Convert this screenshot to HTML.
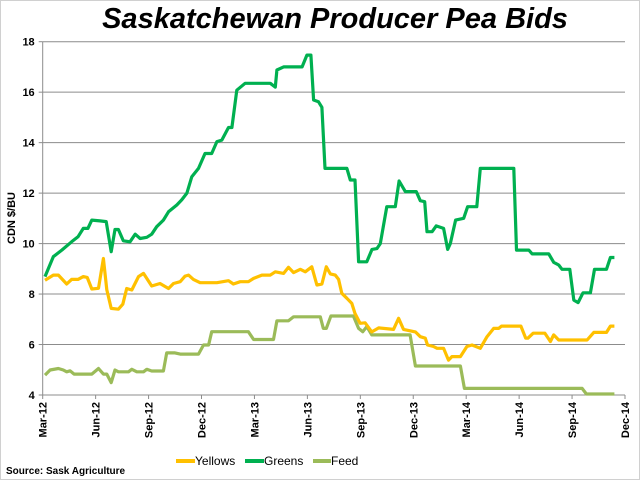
<!DOCTYPE html>
<html><head><meta charset="utf-8"><style>
body{margin:0;background:#fff;}
svg{display:block;font-family:"Liberation Sans",sans-serif;}
</style></head><body>
<svg id="chart" width="640" height="480">
<rect x="0.5" y="0.5" width="639" height="479" fill="#fff" stroke="#d0d0d0"/>
<text x="335" y="28" text-anchor="middle" font-size="29" font-weight="bold" font-style="italic" fill="#000">Saskatchewan Producer Pea Bids</text>
<g id="grid"></g>
<g id="yaxis"></g>
<g id="xaxis"></g>
<g id="series"></g>
<text transform="translate(15,218) rotate(-90)" text-anchor="middle" font-size="11" font-weight="bold">CDN $/BU</text>
<g>
<g><line x1="176" y1="461" x2="195" y2="461" stroke="#FFC000" stroke-width="4"/><text x="195" y="465" font-size="12">Yellows</text></g>
<g><line x1="245" y1="461" x2="264" y2="461" stroke="#00B050" stroke-width="4"/><text x="264" y="465" font-size="12">Greens</text></g>
<g><line x1="313" y1="461" x2="331" y2="461" stroke="#9BBB59" stroke-width="4"/><text x="331" y="465" font-size="12">Feed</text></g>
</g>
<text x="6" y="474" font-size="10" font-weight="bold">Source: Sask Agriculture</text>
</svg>
<script>
const xTickLabels=["Mar-12","Jun-12","Sep-12","Dec-12","Mar-13","Jun-13","Sep-13","Dec-13","Mar-14","Jun-14","Sep-14","Dec-14"];
const yTicks=[4,6,8,10,12,14,16,18];
const greensM=[0.13,0.6,1.08,1.64,2.0,2.3,2.56,2.78,3.25,3.6,3.88,4.1,4.29,4.57,4.95,5.24,5.52,5.9,6.18,6.46,6.84,7.13,7.6,7.88,8.17,8.45,8.83,9.2,9.58,9.87,10.15,10.53,10.72,11.0,11.47,12.9,13.18,13.27,13.65,14.7,14.97,15.2,15.35,15.63,15.82,16.0,17.24,17.43,17.7,17.9,18.37,18.66,18.94,19.13,19.5,19.98,20.2,20.55,21.17,21.4,21.65,21.78,22.07,22.3,22.72,22.95,23.1,23.4,23.86,24.08,24.6,24.8,26.7,26.85,27.55,27.74,28.68,28.96,29.24,29.43,29.87,30.1,30.34,30.62,31.04,31.27,31.95,32.17,32.4];
const greensV=[8.69,9.48,9.74,10.07,10.27,10.6,10.6,10.93,10.9,10.87,9.68,10.56,10.56,10.11,10.07,10.37,10.2,10.25,10.37,10.67,10.93,11.26,11.53,11.73,12.0,12.65,12.98,13.57,13.57,14.04,14.1,14.6,14.6,16.08,16.35,16.35,16.2,16.88,17.0,17.0,17.47,17.47,15.69,15.62,15.4,12.98,12.98,12.52,12.52,9.28,9.28,9.77,9.8,10.0,11.46,11.46,12.48,12.06,12.06,11.7,11.66,10.47,10.47,10.7,10.6,9.77,10.0,10.93,11.0,11.46,11.46,12.98,12.98,9.74,9.74,9.59,9.59,9.26,9.15,8.98,8.98,7.76,7.66,8.05,8.05,8.98,8.98,9.45,9.45];
const yellowsM=[0.13,0.6,0.89,1.36,1.64,2.0,2.3,2.52,2.78,3.16,3.44,3.63,3.88,4.29,4.54,4.76,5.05,5.43,5.71,6.18,6.65,7.13,7.41,7.79,8.07,8.26,8.54,8.92,9.87,10.53,10.81,11.19,11.66,11.95,12.42,12.9,13.18,13.65,13.93,14.22,14.6,14.88,15.25,15.54,15.82,16.07,16.3,16.58,16.77,16.95,17.24,17.52,17.7,17.99,18.27,18.65,19.04,19.88,20.17,20.45,21.12,21.4,21.68,21.81,22.15,22.35,22.72,23.0,23.19,23.67,24.04,24.33,24.8,25.18,25.56,25.84,26.0,27.1,27.37,27.5,27.8,28.46,28.77,28.96,29.24,30.85,31.23,31.95,32.17,32.4];
const yellowsV=[8.55,8.75,8.75,8.4,8.58,8.58,8.69,8.66,8.2,8.23,9.41,8.17,7.43,7.4,7.6,8.22,8.16,8.69,8.82,8.32,8.42,8.22,8.42,8.49,8.71,8.75,8.58,8.45,8.45,8.53,8.4,8.49,8.49,8.62,8.75,8.75,8.88,8.82,9.06,8.85,8.98,8.88,9.08,8.36,8.4,9.08,8.8,8.75,8.58,8.03,7.83,7.63,7.23,6.84,6.86,6.5,6.66,6.6,7.04,6.6,6.5,6.31,6.25,5.98,5.92,5.85,5.85,5.38,5.52,5.52,5.92,5.98,5.85,6.31,6.64,6.64,6.73,6.73,6.25,6.25,6.45,6.45,6.12,6.38,6.18,6.18,6.48,6.48,6.73,6.73];
const feedM=[0.13,0.42,0.89,1.17,1.36,1.55,1.78,2.78,3.16,3.44,3.63,3.88,4.1,4.29,4.86,5.05,5.33,5.71,5.9,6.18,6.84,7.03,7.5,7.79,8.83,9.11,9.4,9.58,11.66,11.95,13.08,13.27,13.93,14.22,15.25,15.73,15.9,16.07,16.33,17.61,17.9,18.14,18.37,18.65,20.82,21.12,23.67,23.9,30.57,30.81,32.4];
const feedV=[4.79,4.99,5.05,4.99,4.92,4.96,4.83,4.83,5.05,4.83,4.83,4.49,4.99,4.92,4.92,5.02,4.92,4.92,5.02,4.95,4.95,5.67,5.67,5.62,5.62,5.98,5.98,6.51,6.51,6.2,6.2,6.94,6.94,7.1,7.1,7.1,6.64,6.64,7.13,7.13,6.64,6.51,6.71,6.38,6.38,5.15,5.15,4.26,4.26,4.04,4.04];

const X0=42.7,X1=625,Y0=395,Y1=41.7,VMIN=4,VMAX=18,MONTHS=33;
function xScale(m){return X0+(X1-X0)*m/MONTHS;}
function yScale(v){return Y0-(Y0-Y1)*(v-VMIN)/(VMAX-VMIN);}
const NS="http://www.w3.org/2000/svg";
function mk(tag,attrs,parent){const e=document.createElementNS(NS,tag);for(const k in attrs)e.setAttribute(k,attrs[k]);parent.appendChild(e);return e;}
const grid=document.getElementById('grid'),yaxis=document.getElementById('yaxis'),xaxis=document.getElementById('xaxis'),series=document.getElementById('series');
yTicks.forEach(v=>{
  const y=yScale(v);
  if(v>VMIN){const g=mk('line',{x1:X0,x2:X1,y1:y,y2:y,stroke:'#8c8c8c','stroke-width':1},grid);
  
  }
  const t=mk('line',{x1:X0-4,x2:X0,y1:y,y2:y,stroke:'#8c8c8c'},yaxis);
  
  
  const l=mk('text',{x:X0-8,y:y+4,'text-anchor':'end','font-size':11,'font-weight':'bold'},yaxis);
  l.textContent=v;
  
  
});
const ya=mk('line',{x1:X0,x2:X0,y1:Y1,y2:Y0,stroke:'#8c8c8c'},yaxis);


const xa=mk('line',{x1:X0,x2:X1,y1:Y0,y2:Y0,stroke:'#8c8c8c'},xaxis);


xTickLabels.forEach((s,i)=>{
  const x=xScale(i*3);
  const t=mk('line',{x1:x,x2:x,y1:Y0,y2:Y0+4,stroke:'#8c8c8c'},xaxis);
  
  
  const l=mk('text',{transform:'translate('+(x+4)+','+(Y0+7)+') rotate(-90)','text-anchor':'end','font-size':11,'font-weight':'bold'},xaxis);
  l.textContent=s;
  
  
});
function drawLine(ms,vs,color,name){
  const pts=ms.map((m,i)=>xScale(m).toFixed(1)+','+yScale(vs[i]).toFixed(1)).join(' ');
  const p=mk('polyline',{points:pts,fill:'none',stroke:color,'stroke-width':3.2,'stroke-linejoin':'round'},series);
  
  
}
drawLine(feedM,feedV,'#9BBB59','feed-line');
drawLine(yellowsM,yellowsV,'#FFC000','yellows-line');
drawLine(greensM,greensV,'#00B050','greens-line');
</script>
</body></html>
